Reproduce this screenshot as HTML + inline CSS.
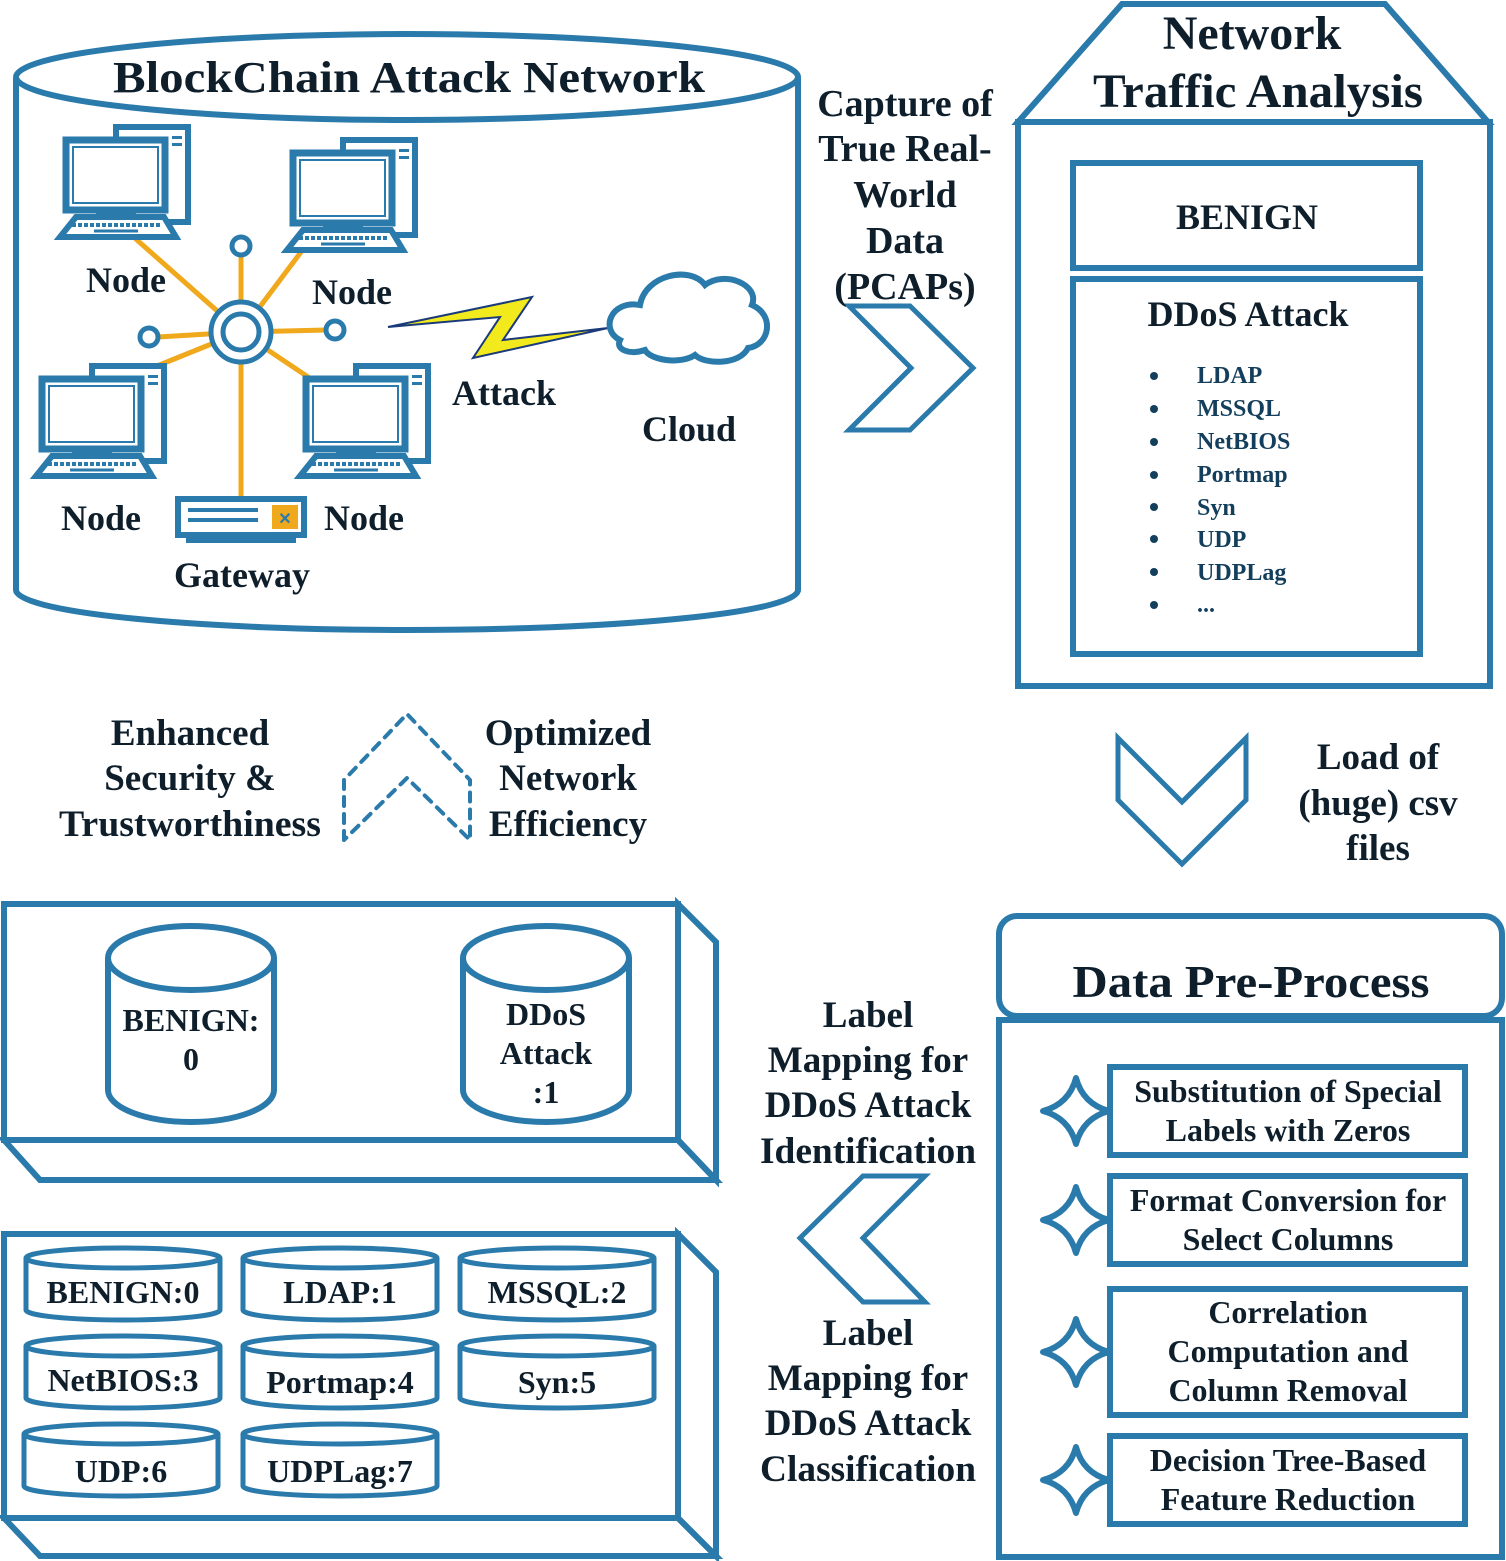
<!DOCTYPE html>
<html><head><meta charset="utf-8"><style>
html,body{margin:0;padding:0;background:#fff;}
svg{display:block;}
text{font-family:"Liberation Serif",serif;font-weight:bold;fill:#0e1e2b;}
</style></head><body>
<svg width="1506" height="1561" viewBox="0 0 1506 1561" xmlns="http://www.w3.org/2000/svg">
<defs>
<g id="pc">
  <rect x="50" y="0" width="72" height="95" fill="#fff" stroke="#2a7aab" stroke-width="6"/>
  <rect x="106" y="9" width="10" height="3" fill="#2a7aab"/><rect x="106" y="16" width="10" height="3" fill="#2a7aab"/>
  <rect x="0" y="13" width="99" height="70" fill="#fff" stroke="#2a7aab" stroke-width="7"/>
  <rect x="7" y="20" width="85" height="56" fill="none" stroke="#2a7aab" stroke-width="2"/>
  <rect x="30" y="83" width="40" height="9" fill="#2a7aab"/>
  <polygon points="10,90 98,90 110,110 -6,110" fill="#fff" stroke="#2a7aab" stroke-width="6"/>
  <line x1="6" y1="98" x2="96" y2="98" stroke="#2a7aab" stroke-width="4" stroke-dasharray="4,2"/>
  <line x1="28" y1="104" x2="72" y2="104" stroke="#2a7aab" stroke-width="3"/>
</g>
<g id="star"><path d="M0,-33 Q7,-7 33,0 Q7,7 0,33 Q-7,7 -33,0 Q-7,-7 0,-33 Z" fill="#fff" stroke="#2a7aab" stroke-width="6" stroke-linejoin="round"/></g>
</defs>
<g fill="none" stroke="#2a7aab" stroke-width="6">
<path d="M16,78 L16,590 A391,40 0 0 0 798,590 L798,78" fill="#fff"/>
<ellipse cx="407" cy="77" rx="391" ry="43" fill="#fff"/>
<polygon points="1018,122 1122,4 1385,4 1488,122"/>
<rect x="1018" y="122" width="472" height="564"/>
<rect x="1073" y="163" width="347" height="105"/>
<rect x="1073" y="279" width="347" height="375"/>
<polygon points="849,306 910,306 973,368 910,430 849,430 911,368" stroke-width="5"/>
<polygon points="1118,738 1182,802 1246,738 1246,800 1182,864 1118,800" stroke-width="5"/>
<polygon points="925,1176 863,1238 925,1302 863,1302 800,1238 863,1176" stroke-width="5"/>
<polyline points="344,840 344,780 407,714 470,780 470,840 407,778 344,840" stroke-width="4" stroke-dasharray="9,8" stroke-linecap="round"/>
<rect x="999" y="916" width="503" height="100" rx="18" fill="#fff"/>
<rect x="999" y="1020" width="503" height="537"/>
<rect x="1110" y="1067" width="355" height="88"/>
<rect x="1110" y="1176" width="355" height="88"/>
<rect x="1110" y="1289" width="355" height="126"/>
<rect x="1110" y="1436" width="355" height="88"/>
<rect x="4" y="904" width="674" height="236"/>
<polygon points="678,904 716,942 716,1180 678,1140"/>
<polygon points="4,1140 678,1140 716,1180 40,1180"/>
<path d="M108,958 L108,1090 A83,32 0 0 0 274,1090 L274,958"/>
<ellipse cx="191" cy="958" rx="83" ry="32" fill="#fff"/>
<path d="M463,958 L463,1090 A83,32 0 0 0 629,1090 L629,958"/>
<ellipse cx="546" cy="958" rx="83" ry="32" fill="#fff"/>
<rect x="4" y="1234" width="674" height="284"/>
<polygon points="678,1234 716,1272 716,1556 678,1518"/>
<polygon points="4,1518 678,1518 716,1556 40,1556"/>
</g>
<g fill="none" stroke="#2a7aab" stroke-width="5">
<path d="M26,1258 L26,1310 A97,10 0 0 0 220,1310 L220,1258"/><ellipse cx="123" cy="1258" rx="97" ry="10"/>
<path d="M243,1258 L243,1310 A97,10 0 0 0 437,1310 L437,1258"/><ellipse cx="340" cy="1258" rx="97" ry="10"/>
<path d="M460,1258 L460,1310 A97,10 0 0 0 654,1310 L654,1258"/><ellipse cx="557" cy="1258" rx="97" ry="10"/>
<path d="M26,1346 L26,1398 A97,10 0 0 0 220,1398 L220,1346"/><ellipse cx="123" cy="1346" rx="97" ry="10"/>
<path d="M243,1346 L243,1398 A97,10 0 0 0 437,1398 L437,1346"/><ellipse cx="340" cy="1346" rx="97" ry="10"/>
<path d="M460,1346 L460,1398 A97,10 0 0 0 654,1398 L654,1346"/><ellipse cx="557" cy="1346" rx="97" ry="10"/>
<path d="M24,1434 L24,1486 A97,10 0 0 0 218,1486 L218,1434"/><ellipse cx="121" cy="1434" rx="97" ry="10"/>
<path d="M243,1434 L243,1486 A97,10 0 0 0 437,1486 L437,1434"/><ellipse cx="340" cy="1434" rx="97" ry="10"/>
</g>
<use href="#star" x="1076" y="1111"/>
<use href="#star" x="1076" y="1220"/>
<use href="#star" x="1076" y="1352"/>
<use href="#star" x="1076" y="1480"/>
<g stroke="#f0a81c" stroke-width="5">
<line x1="241" y1="332" x2="120" y2="225"/><line x1="241" y1="332" x2="310" y2="240"/>
<line x1="241" y1="332" x2="241" y2="255"/><line x1="241" y1="332" x2="158" y2="337"/>
<line x1="241" y1="332" x2="326" y2="330"/><line x1="241" y1="332" x2="110" y2="385"/>
<line x1="241" y1="332" x2="320" y2="385"/><line x1="241" y1="332" x2="241" y2="500"/>
</g>
<g fill="#fff" stroke="#2a7aab" stroke-width="5">
<circle cx="241" cy="332" r="30"/><circle cx="241" cy="332" r="18"/>
<circle cx="241" cy="246" r="9"/><circle cx="149" cy="337" r="9"/><circle cx="335" cy="330" r="9"/>
</g>
<use href="#pc" x="66" y="127"/>
<use href="#pc" x="293" y="140"/>
<use href="#pc" x="42" y="366"/>
<use href="#pc" x="306" y="366"/>
<rect x="178" y="499" width="126" height="36" fill="#fff" stroke="#2a7aab" stroke-width="6"/>
<rect x="186" y="536" width="110" height="7" fill="#2a7aab"/>
<rect x="272" y="505" width="26" height="24" fill="#f0a81c"/>
<text x="285" y="524" font-size="16" text-anchor="middle" style="fill:#2a7aab">✕</text>
<g fill="#2a7aab"><rect x="188" y="508" width="70" height="4"/><rect x="188" y="518" width="70" height="4"/></g>
<polygon points="388,327 532,297 503,340 608,328 473,358 500,317" fill="#f2ea1c" stroke="#1a3a7a" stroke-width="2"/>
<path d="M620,340 C600,330 610,300 640,305 C645,275 690,265 705,285 C725,270 760,285 752,305 C775,315 770,345 748,348 C740,365 705,365 695,355 C680,365 650,360 645,350 C630,355 615,350 620,340 Z" fill="#fff" stroke="#2a7aab" stroke-width="6"/>
<text x="409" y="92" font-size="44" text-anchor="middle" textLength="592" lengthAdjust="spacingAndGlyphs">BlockChain Attack Network</text>
<g font-size="36">
<text x="126" y="292" text-anchor="middle">Node</text>
<text x="352" y="304" text-anchor="middle">Node</text>
<text x="101" y="530" text-anchor="middle">Node</text>
<text x="364" y="530" text-anchor="middle">Node</text>
<text x="242" y="587" text-anchor="middle">Gateway</text>
<text x="504" y="405" text-anchor="middle">Attack</text>
<text x="689" y="441" text-anchor="middle">Cloud</text>
</g>
<g font-size="38" text-anchor="middle">
<text x="905" y="116">Capture of</text>
<text x="905" y="161">True Real-</text>
<text x="905" y="207">World</text>
<text x="905" y="253">Data</text>
<text x="905" y="299">(PCAPs)</text>
</g>
<text x="1252" y="49" font-size="48" text-anchor="middle">Network</text>
<text x="1258" y="107" font-size="48" text-anchor="middle" textLength="330" lengthAdjust="spacingAndGlyphs">Traffic Analysis</text>
<text x="1247" y="229" font-size="36" text-anchor="middle">BENIGN</text>
<text x="1248" y="326" font-size="36" text-anchor="middle">DDoS Attack</text>
<g font-size="24">
<text x="1197" y="383" style="fill:#143f5c">LDAP</text>
<text x="1197" y="416" style="fill:#143f5c">MSSQL</text>
<text x="1197" y="449" style="fill:#143f5c">NetBIOS</text>
<text x="1197" y="482" style="fill:#143f5c">Portmap</text>
<text x="1197" y="515" style="fill:#143f5c">Syn</text>
<text x="1197" y="547" style="fill:#143f5c">UDP</text>
<text x="1197" y="580" style="fill:#143f5c">UDPLag</text>
<text x="1197" y="612" style="fill:#143f5c">...</text>
</g>
<g fill="#143f5c"><circle cx="1154" cy="376" r="4"/><circle cx="1154" cy="409" r="4"/><circle cx="1154" cy="442" r="4"/><circle cx="1154" cy="475" r="4"/><circle cx="1154" cy="507" r="4"/><circle cx="1154" cy="539" r="4"/><circle cx="1154" cy="572" r="4"/><circle cx="1154" cy="605" r="4"/></g>
<g font-size="37" text-anchor="middle">
<text x="1378" y="769">Load of</text>
<text x="1378" y="815">(huge) csv</text>
<text x="1378" y="860">files</text>
<text x="190" y="745">Enhanced</text>
<text x="190" y="790">Security &amp;</text>
<text x="190" y="836" textLength="262" lengthAdjust="spacingAndGlyphs">Trustworthiness</text>
<text x="568" y="745">Optimized</text>
<text x="568" y="790">Network</text>
<text x="568" y="836">Efficiency</text>
<text x="868" y="1027">Label</text>
<text x="868" y="1072">Mapping for</text>
<text x="868" y="1117">DDoS Attack</text>
<text x="868" y="1163" textLength="216" lengthAdjust="spacingAndGlyphs">Identification</text>
<text x="868" y="1345">Label</text>
<text x="868" y="1390">Mapping for</text>
<text x="868" y="1435">DDoS Attack</text>
<text x="868" y="1481" textLength="216" lengthAdjust="spacingAndGlyphs">Classification</text>
</g>
<text x="1251" y="997" font-size="46" text-anchor="middle" textLength="357" lengthAdjust="spacingAndGlyphs">Data Pre-Process</text>
<g font-size="32" text-anchor="middle">
<text x="1288" y="1102">Substitution of Special</text>
<text x="1288" y="1141">Labels with Zeros</text>
<text x="1288" y="1211">Format Conversion for</text>
<text x="1288" y="1250">Select Columns</text>
<text x="1288" y="1323">Correlation</text>
<text x="1288" y="1362">Computation and</text>
<text x="1288" y="1401">Column Removal</text>
<text x="1288" y="1471">Decision Tree-Based</text>
<text x="1288" y="1510">Feature Reduction</text>
</g>
<g font-size="32" text-anchor="middle">
<text x="191" y="1031">BENIGN:</text>
<text x="191" y="1070">0</text>
<text x="546" y="1025">DDoS</text>
<text x="546" y="1064">Attack</text>
<text x="546" y="1103">:1</text>
<text x="123" y="1303">BENIGN:0</text>
<text x="340" y="1303">LDAP:1</text>
<text x="557" y="1303">MSSQL:2</text>
<text x="123" y="1391">NetBIOS:3</text>
<text x="340" y="1393">Portmap:4</text>
<text x="557" y="1393">Syn:5</text>
<text x="121" y="1482">UDP:6</text>
<text x="340" y="1482">UDPLag:7</text>
</g>
</svg>
</body></html>
